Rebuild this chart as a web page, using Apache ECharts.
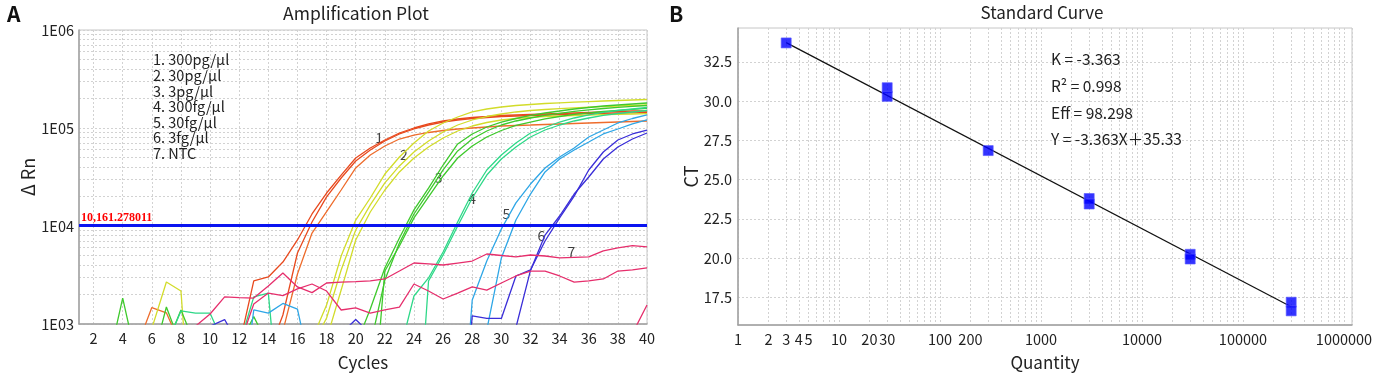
<!DOCTYPE html>
<html>
<head>
<meta charset="utf-8">
<title>qPCR</title>
<script src="https://cdn.jsdelivr.net/npm/echarts@6/dist/echarts.min.js"></script>
<style>
  html, body { margin: 0; padding: 0; background: #fff; }
  #chart { width: 1382px; height: 377px; }
</style>
</head>
<body>
<div id="chart"></div>
<script>
// ---- Amplification plot data (delta Rn per cycle) ----
const cycles = [1,2,3,4,5,6,7,8,9,10,11,12,13,14,15,16,17,18,19,20,21,22,23,24,25,26,27,28,29,30,31,32,33,34,35,36,37,38,39,40];
const cycleTicks = [2,4,6,8,10,12,14,16,18,20,22,24,26,28,30,32,34,36,38,40];

// 1. 300pg/ul
const amp1a = [600,600,600,600,600,600,600,600,600,600,600,600,2750,3020,4290,7200,13260,21700,33100,49400,62500,75400,88900,100000,109900,117900,123600,128000,131000,134200,135800,137400,139000,140600,142300,144000,145700,147400,149100,149100];
const amp1b = [600,600,600,600,600,600,600,600,600,600,600,600,600,500,1235,5300,10990,19800,30900,46100,59600,73700,86900,97700,107300,115100,120700,125000,128000,131000,132600,134200,135800,137400,139000,140600,141300,142300,143000,144000];
const amp1c = [600,600,600,600,600,1470,1300,600,600,600,600,600,600,600,850,3240,8480,14000,23300,39100,53000,65500,77200,84800,90000,94300,97700,100000,102400,104800,106100,107300,108600,109900,111200,112500,113800,115100,116500,117900];
// 2. 30pg/ul
const amp2a = [600,600,600,600,600,900,2680,2170,20,600,600,600,600,600,600,600,700,1560,4940,11500,19300,33900,50600,70300,93200,112500,129500,145700,156300,163800,169700,173700,177800,180700,183300,185900,188600,190800,193100,195400];
const amp2b = [600,600,600,600,600,600,600,600,600,600,600,600,600,600,600,600,600,1150,3560,9100,16400,27500,41000,56900,73700,91000,107300,120700,131000,139000,145700,150900,154500,157800,160800,163000,165400,167700,169700,171700];
const amp2c = [700,700,700,700,700,700,700,700,700,700,700,700,700,700,700,700,700,700,2220,7200,13900,23300,35600,49400,64000,79100,93200,104800,113800,120700,125000,128600,131000,132600,134200,135800,137000,138000,139000,139900];
// 3. 3pg/ul
const amp3a = [600,600,400,1840,400,400,1490,600,600,600,600,600,600,600,600,600,600,600,600,600,1420,3730,7540,14600,24400,41900,68700,86900,102400,115100,125000,134200,142300,149100,156300,161900,167700,171700,175800,180000];
const amp3b = [600,600,600,600,600,600,600,1390,600,600,600,600,600,600,600,600,600,600,600,600,600,2810,6700,13260,22200,37300,58300,77200,93200,107300,117900,126500,134200,141300,148100,153400,158100,162600,166500,169700];
const amp3c = [600,600,600,600,600,600,600,600,600,600,600,600,1190,600,600,600,600,600,600,600,60,3470,6250,12100,19800,32400,49400,65500,80900,94300,106100,115100,123600,131000,137400,143000,147400,151600,155200,158900];
// 4. 300fg/ul
const amp4a = [600,600,600,600,600,600,600,600,600,600,600,600,1890,2070,50,600,600,600,600,600,600,600,500,1930,2950,5430,10990,21700,37300,53000,70300,88900,101200,115100,126500,135800,144000,150900,156300,161900];
const amp4b = [600,600,600,600,600,600,600,1360,1290,1290,600,600,600,600,600,600,600,600,600,600,600,600,600,20,2750,5060,10000,19300,33100,48300,64000,80900,95400,107300,117900,126500,134200,140600,145700,150900];
// 5. 30fg/ul
const amp5a = [600,600,600,600,600,600,600,600,600,600,600,100,1390,1290,1620,1420,300,600,600,600,600,600,600,600,600,600,20,1760,4390,9320,17200,26800,39100,50600,62500,80900,95400,112500,125000,135800];
const amp5b = [600,600,600,600,600,600,600,600,600,600,600,600,600,600,600,600,600,600,600,600,600,600,600,600,600,600,600,600,870,4720,11500,21200,35600,48300,59600,71900,86900,97700,109900,120700];
// 6. 3fg/ul
const amp6a = [600,600,600,600,600,600,600,600,600,950,1110,600,600,600,600,600,600,600,600,600,600,600,600,600,600,600,20,1210,1140,1140,3090,3560,7030,12100,20200,37300,56900,75400,86900,95400];
const amp6b = [600,600,600,600,600,600,600,600,600,600,600,600,600,600,600,600,600,600,800,1110,800,600,600,600,600,600,600,600,600,600,920,3520,8090,12650,21200,31600,48300,64000,77200,88900];
// 7. NTC
const ntc1 = [600,600,600,600,600,600,600,600,950,1265,1890,1860,1840,2440,3310,2390,2090,2620,2680,2710,2750,2880,3470,4190,4100,4000,4190,4390,5180,5000,4830,5060,4940,4720,4780,4830,5580,5970,6300,6110];
const ntc2 = [600,600,600,600,600,600,600,600,600,600,600,600,1600,2070,1950,2280,2560,2170,1390,1460,1290,1390,1490,2560,2170,1800,2070,2390,2220,2620,3090,3470,3470,3090,2680,2750,2880,3470,3560,3730];
const ntc3 = [600,600,600,600,600,600,600,600,600,600,600,600,600,600,600,600,600,600,600,600,600,600,600,600,600,600,600,600,600,600,600,600,600,600,600,600,600,600,800,1560];

const threshold = 10161.278011;
const sampleNames = ['1. 300pg/\u03bcl', '2. 30pg/\u03bcl', '3. 3pg/\u03bcl', '4. 300fg/\u03bcl', '5. 30fg/\u03bcl', '6. 3fg/\u03bcl', '7. NTC'];
const curveLabels = ['1', '2', '3', '4', '5', '6', '7'];
const labelCycles = [21.6, 23.3, 25.7, 28.0, 30.35, 32.75, 34.8];
const labelValues = [79000, 53000, 30900, 18900, 13250, 7900, 5430];

// ---- Standard curve data ----
const quantity = [3, 30, 30, 300, 3000, 3000, 30000, 30000, 300000, 300000];
const ct = [33.7, 30.85, 30.3, 26.85, 23.8, 23.45, 20.25, 19.95, 17.2, 16.65];
const fitQuantity = [3, 300000];
const fitCt = [33.72, 16.91];
const qtyTicks = [1, 2, 3, 4, 5, 10, 20, 30, 100, 200, 1000, 10000, 100000, 1000000];
const ctTicks = [17.5, 20, 22.5, 25, 27.5, 30, 32.5];
const fitStats = ['K = -3.363', 'R\u00b2 = 0.998', 'Eff = 98.298', 'Y = -3.363X\uff0b35.33'];

const FONT = '"Noto Sans CJK SC", "Noto Sans", sans-serif';
const gridLine = { color: '#d2d2d2', width: 1, type: [2, 2] };
const axisLineStyle = { lineStyle: { color: '#a0a0a0', width: 1.5 } };
const tickLabel = { fontSize: 14.5, color: '#222', fontFamily: FONT };

const curves = [
  { data: amp1a, color: '#e8491e' }, { data: amp1b, color: '#e8491e' }, { data: amp1c, color: '#ee6c2c' },
  { data: amp2a, color: '#d2dc2a' }, { data: amp2b, color: '#d2dc2a' }, { data: amp2c, color: '#d2dc2a' },
  { data: amp3a, color: '#3ec92c' }, { data: amp3b, color: '#3ec92c' }, { data: amp3c, color: '#3ec92c' },
  { data: amp4a, color: '#2ed888' }, { data: amp4b, color: '#2ed888' },
  { data: amp5a, color: '#2ea6e6' }, { data: amp5b, color: '#2ea6e6' },
  { data: amp6a, color: '#3a2ed8' }, { data: amp6b, color: '#3a2ed8' },
  { data: ntc1, color: '#e62e6c' }, { data: ntc2, color: '#e62e6c' }, { data: ntc3, color: '#e62e6c' }
];

const chart = echarts.init(document.getElementById('chart'));

const series = curves.map(c => ({
  type: 'line',
  xAxisIndex: 0,
  yAxisIndex: 0,
  data: cycles.map((x, i) => [x, c.data[i]]),
  symbol: 'none',
  clip: true,
  silent: true,
  lineStyle: { color: c.color, width: 1.3 }
}));

// threshold line
series.push({
  type: 'line',
  xAxisIndex: 0,
  yAxisIndex: 0,
  data: [],
  silent: true,
  markLine: {
    symbol: 'none',
    silent: true,
    data: [{ yAxis: threshold }],
    lineStyle: { color: '#0a14f0', width: 3, type: 'solid' },
    label: {
      position: 'insideStartTop',
      distance: [2, 1],
      formatter: threshold.toLocaleString('en-US', { maximumFractionDigits: 6 }),
      color: '#ff0000',
      fontFamily: '"Liberation Serif", serif',
      fontWeight: 'bold',
      fontSize: 12
    }
  }
});

// curve numbers
series.push({
  type: 'scatter',
  xAxisIndex: 0,
  yAxisIndex: 0,
  symbolSize: 0,
  silent: true,
  itemStyle: { color: 'rgba(0,0,0,0)' },
  data: curveLabels.map((t, i) => ({ name: t, value: [labelCycles[i], labelValues[i]] })),
  label: { show: true, position: 'inside', formatter: '{b}', color: '#111', fontSize: 14, fontFamily: FONT }
});

// standard curve fit line and points
series.push({
  type: 'line',
  xAxisIndex: 1,
  yAxisIndex: 1,
  data: fitQuantity.map((q, i) => [q, fitCt[i]]),
  symbol: 'none',
  silent: true,
  lineStyle: { color: '#111', width: 1.2 }
});
series.push({
  type: 'scatter',
  xAxisIndex: 1,
  yAxisIndex: 1,
  data: quantity.map((q, i) => [q, ct[i]]),
  symbol: 'rect',
  symbolSize: 10,
  silent: true,
  itemStyle: { color: '#0000ff', borderColor: '#5a5aff', borderWidth: 0.8 },
  z: 5
});

const option = {
  animation: false,
  textStyle: { fontFamily: FONT },
  grid: [
    { left: 79, top: 30, width: 568, height: 294, show: true, borderColor: '#c6c6c6', borderWidth: 1 },
    { left: 738, top: 28, width: 614, height: 297, show: true, borderColor: '#c6c6c6', borderWidth: 1 }
  ],
  xAxis: [
    {
      type: 'value', gridIndex: 0, min: 1, max: 40,
      name: 'Cycles', nameLocation: 'middle', nameGap: 30,
      nameTextStyle: { fontSize: 17, color: '#222', fontFamily: FONT },
      axisLine: axisLineStyle,
      axisTick: { show: false, customValues: cycleTicks },
      axisLabel: Object.assign({ customValues: cycleTicks, margin: 7 }, tickLabel),
      splitLine: { show: true, lineStyle: gridLine }
    },
    {
      type: 'log', logBase: 10, gridIndex: 1, min: 1, max: 1200000,
      name: 'Quantity', nameLocation: 'middle', nameGap: 29,
      nameTextStyle: { fontSize: 17, color: '#222', fontFamily: FONT },
      axisLine: axisLineStyle,
      axisTick: { show: false },
      axisLabel: Object.assign({ customValues: qtyTicks, margin: 7, formatter: v => String(Math.round(v)) }, tickLabel),
      splitLine: { show: true, lineStyle: gridLine },
      minorTick: { show: false, splitNumber: 9 },
      minorSplitLine: { show: true, lineStyle: gridLine }
    }
  ],
  yAxis: [
    {
      type: 'log', logBase: 10, gridIndex: 0, min: 1000, max: 1000000,
      name: '\u0394 Rn', nameLocation: 'middle', nameGap: 42,
      nameTextStyle: { fontSize: 18, color: '#222', fontFamily: FONT },
      axisLine: axisLineStyle,
      axisTick: { show: false },
      axisLabel: Object.assign({ margin: 5, formatter: v => '1E0' + Math.round(Math.log10(v)) }, tickLabel),
      splitLine: { show: true, lineStyle: gridLine },
      minorTick: { show: false, splitNumber: 9 },
      minorSplitLine: { show: true, lineStyle: gridLine }
    },
    {
      type: 'value', gridIndex: 1, min: 15.75, max: 34.65,
      name: 'CT', nameLocation: 'middle', nameGap: 37,
      nameTextStyle: { fontSize: 18, color: '#222', fontFamily: FONT },
      axisLine: axisLineStyle,
      axisTick: { show: false, customValues: ctTicks },
      axisLabel: Object.assign({ customValues: ctTicks, margin: 6, formatter: v => v.toFixed(1) }, tickLabel),
      splitLine: { show: true, lineStyle: gridLine }
    }
  ],
  graphic: [
    { type: 'text', x: 7, y: 14, style: { text: 'A', fill: '#111', font: 'bold 21px ' + FONT, verticalAlign: 'middle', textVerticalAlign: 'middle' } },
    { type: 'text', x: 669, y: 14, style: { text: 'B', fill: '#111', font: 'bold 21px ' + FONT, verticalAlign: 'middle', textVerticalAlign: 'middle' } },
    { type: 'text', x: 356, y: 13, style: { text: 'Amplification Plot', fill: '#222', font: '17.5px ' + FONT, align: 'center', textAlign: 'center', verticalAlign: 'middle', textVerticalAlign: 'middle' } },
    { type: 'text', x: 1042, y: 13, style: { text: 'Standard Curve', fill: '#222', font: '17px ' + FONT, align: 'center', textAlign: 'center', verticalAlign: 'middle', textVerticalAlign: 'middle' } },
    { type: 'text', x: 153, y: 52, z: 10, style: { text: sampleNames.join('\n'), fill: '#222', font: '14.5px ' + FONT, lineHeight: 15.6, verticalAlign: 'top', textVerticalAlign: 'top' } },
    { type: 'text', x: 1051, y: 46, z: 10, style: { text: fitStats.join('\n'), fill: '#222', font: '15.5px ' + FONT, lineHeight: 26.7, verticalAlign: 'top', textVerticalAlign: 'top' } }
  ],
  series: series
};

chart.setOption(option);
</script>
</body>
</html>
